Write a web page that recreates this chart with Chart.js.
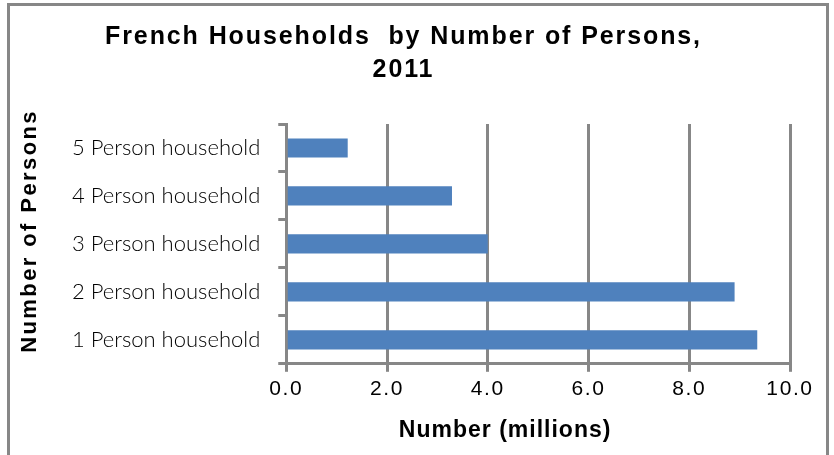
<!DOCTYPE html>
<html>
<head>
<meta charset="utf-8">
<script src="https://cdn.jsdelivr.net/npm/chart.js@4.4.0/dist/chart.umd.min.js"></script>
<style>
  html, body { margin: 0; padding: 0; background: #ffffff; }
  #wrap { position: relative; width: 834px; height: 455px; }
</style>
</head>
<body>
<div id="wrap"><canvas id="hhChart" width="834" height="455"></canvas></div>
<script>
const categories = ["5 Person household", "4 Person household", "3 Person household", "2 Person household", "1 Person household"];
const households = [1.22, 3.29, 4.0, 8.9, 9.35];
const xTicks = [0, 2, 4, 6, 8, 10];
const xTitle = "Number (millions)";
const yTitle = "Number of Persons";

const GRAY = "#878787";
const ARIAL = "'Liberation Sans', Arial, sans-serif";

// the original was rendered with loose tracking on the Arial text,
// so give each text style its own letter spacing (labels in Lato stay tight)
const tracking = { b25: 1.9, b23: 1.0, b22: 2.4, n21: 1.6 };
function spacingFor(fontString) {
  if (fontString.includes("Lato")) return "0px";
  const m = fontString.match(/(\d+(?:\.\d+)?)px/);
  if (!m) return "0px";
  const key = (fontString.includes("bold") ? "b" : "n") + Math.round(parseFloat(m[1]));
  return (tracking[key] || 0) + "px";
}

// outer chart frame, like the spreadsheet chart border
const framePlugin = {
  id: "frame",
  beforeDraw(chart) {
    const c = chart.ctx;
    c.save();
    c.strokeStyle = GRAY;
    c.lineWidth = 3;
    c.strokeRect(8.5, 4.5, 819, 470);
    c.restore();
  }
};

// axis titles sit a bit off-centre in the original, so draw them here
const axisTitlePlugin = {
  id: "axisTitles",
  afterDraw(chart) {
    const c = chart.ctx;
    const xs = chart.scales.x;
    const ys = chart.scales.y;
    c.save();
    c.fillStyle = "#000";
    c.textAlign = "center";
    c.textBaseline = "middle";
    c.font = "bold 23px " + ARIAL;
    c.fillText(xTitle, (xs.left + xs.right) / 2 - 33, xs.bottom - 13);
    c.translate(ys.left + 13, (ys.top + ys.bottom) / 2 - 13);
    c.rotate(-Math.PI / 2);
    c.font = "bold 22px " + ARIAL;
    c.fillText(yTitle, 0, 0);
    c.restore();
  }
};

const ctx = document.getElementById("hhChart").getContext("2d");
const fontDesc = Object.getOwnPropertyDescriptor(CanvasRenderingContext2D.prototype, "font");
Object.defineProperty(ctx, "font", {
  get() { return fontDesc.get.call(this); },
  set(v) {
    fontDesc.set.call(this, v);
    this.letterSpacing = spacingFor(v);
  }
});

new Chart(ctx, {
  type: "bar",
  data: {
    labels: categories,
    datasets: [{
      data: households,
      backgroundColor: "#4F81BD",
      borderWidth: 0,
      barPercentage: 0.4,
      categoryPercentage: 1.0
    }]
  },
  options: {
    indexAxis: "y",
    responsive: false,
    animation: false,
    layout: { padding: { top: 21, left: 17, right: 44, bottom: 11 } },
    scales: {
      x: {
        min: 0,
        max: 10,
        afterBuildTicks(axis) {
          axis.ticks = xTicks.map(v => ({ value: v }));
        },
        afterFit(scale) {
          scale.height += 37;
        },
        ticks: {
          color: "#000",
          font: { family: ARIAL, size: 21 },
          padding: 5,
          callback: v => Number(v).toFixed(1)
        },
        grid: { color: GRAY, lineWidth: 3, tickLength: 8 },
        border: { color: GRAY, width: 3 }
      },
      y: {
        afterFit(scale) {
          scale.width += 37;
        },
        ticks: {
          color: "#000",
          font: { family: "Lato", size: 22, weight: 300 },
          padding: 18
        },
        grid: { color: GRAY, lineWidth: 3, tickLength: 8, drawOnChartArea: false, offset: true },
        border: { color: GRAY, width: 3 }
      }
    },
    plugins: {
      legend: { display: false },
      tooltip: { enabled: false },
      title: {
        display: true,
        text: ["French Households  by Number of Persons,", "2011"],
        color: "#000",
        font: { family: ARIAL, size: 25, weight: "bold", lineHeight: 1.32 },
        padding: { top: 0, bottom: 37 }
      }
    }
  },
  plugins: [framePlugin, axisTitlePlugin]
});
</script>
</body>
</html>
